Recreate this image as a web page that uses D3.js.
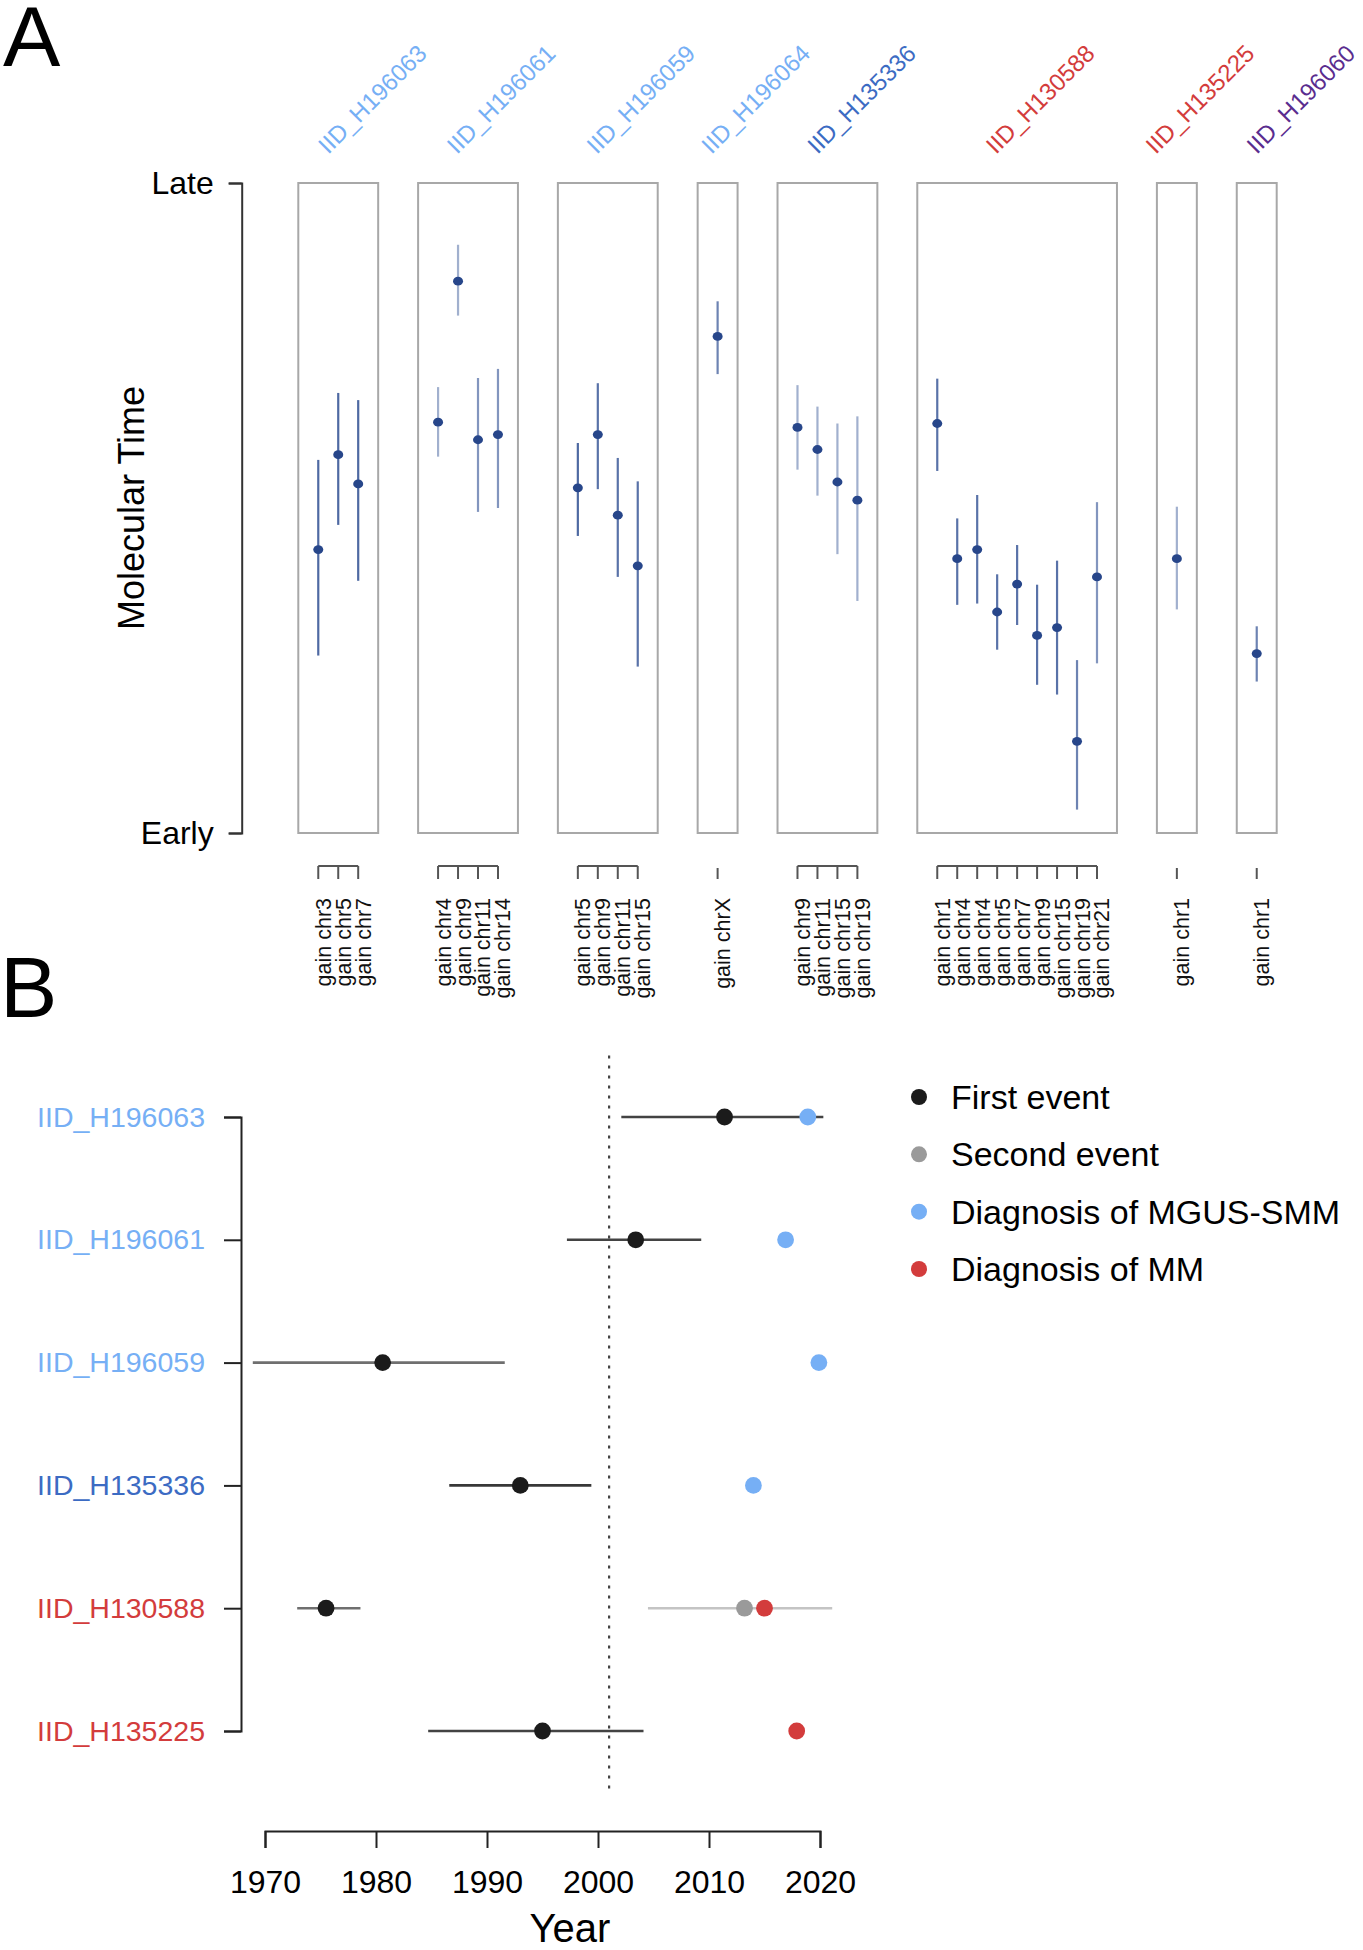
<!DOCTYPE html>
<html>
<head>
<meta charset="utf-8">
<script src="https://cdn.jsdelivr.net/npm/d3@7"></script>
<style>
  html, body { margin: 0; padding: 0; background: #fff; }
  svg { display: block; font-family: "Liberation Sans", Arial, Helvetica, sans-serif; }
</style>
</head>
<body>
<svg id="chart" width="1363" height="1950"></svg>
<script>
// ---------------- Panel A data ----------------
const samplesA = ["IID_H196063","IID_H196061","IID_H196059","IID_H196064","IID_H135336","IID_H130588","IID_H135225","IID_H196060"];
const sampleColorKey = ["mgus","mgus","mgus","mgus","darkblue","mm","mm","purple"];
// events per sample (label, molecular time point estimate, lower, upper, opacity of CI)
const evSample = [0,0,0, 1,1,1,1, 2,2,2,2, 3, 4,4,4,4, 5,5,5,5,5,5,5,5,5, 6, 7];
const evLabel = ["gain chr3","gain chr5","gain chr7",
  "gain chr4","gain chr9","gain chr11","gain chr14",
  "gain chr5","gain chr9","gain chr11","gain chr15",
  "gain chrX",
  "gain chr9","gain chr11","gain chr15","gain chr19",
  "gain chr1","gain chr4","gain chr4","gain chr5","gain chr7","gain chr9","gain chr15","gain chr19","gain chr21",
  "gain chr1","gain chr1"];
const evTime = [0.436,0.582,0.537, 0.632,0.849,0.605,0.613, 0.531,0.613,0.489,0.411, 0.764,
  0.624,0.590,0.540,0.512, 0.630,0.422,0.436,0.340,0.383,0.304,0.316,0.141,0.394, 0.422, 0.276];
const evLow = [0.273,0.474,0.388, 0.579,0.796,0.494,0.500, 0.457,0.529,0.394,0.256, 0.706,
  0.559,0.519,0.429,0.357, 0.557,0.351,0.353,0.282,0.320,0.228,0.213,0.036,0.261, 0.344, 0.233];
const evHigh = [0.574,0.677,0.666, 0.686,0.905,0.700,0.714, 0.600,0.692,0.577,0.541, 0.818,
  0.689,0.656,0.630,0.641, 0.699,0.484,0.520,0.398,0.443,0.382,0.419,0.266,0.509, 0.502, 0.318];
const evAlpha = [0.85,0.85,0.85, 0.45,0.45,0.6,0.6, 0.85,0.8,0.8,0.8, 0.7,
  0.45,0.45,0.45,0.45, 0.8,0.8,0.8,0.8,0.8,0.8,0.8,0.7,0.6, 0.45, 0.7];
const yTicksA = [0, 1];
const yTickLabelsA = ["Early", "Late"];

// ---------------- Panel B data ----------------
const rowsB = ["IID_H196063","IID_H196061","IID_H196059","IID_H135336","IID_H130588","IID_H135225"];
const rowColorKey = ["mgus","mgus","mgus","darkblue","mm","mm"];
const firstEvent = [2011.4, 2003.4, 1980.6, 1993.0, 1975.5, 1995.0];
const firstLow   = [2002.1, 1997.2, 1968.9, 1986.6, 1972.9, 1984.7];
const firstHigh  = [2020.3, 2009.3, 1991.6, 1999.4, 1978.6, 2004.1];
const firstAlpha = [0.85, 0.85, 0.65, 0.9, 0.65, 0.85];
const secondEvent = [null, null, null, null, 2013.2, null];
const secondLow   = [null, null, null, null, 2004.5, null];
const secondHigh  = [null, null, null, null, 2021.1, null];
const diagMGUS = [2018.9, 2016.9, 2019.9, 2014.0, null, null];
const diagMM   = [null, null, null, null, 2015.0, 2017.9];
const refYear = 2001;
const yearTicks = [1970, 1980, 1990, 2000, 2010, 2020];
const legendLabels = ["First event", "Second event", "Diagnosis of MGUS-SMM", "Diagnosis of MM"];
const legendKeys = ["first", "second", "mgus", "mm"];

// ---------------- styles ----------------
const colors = {
  mgus: "#76aff5", darkblue: "#3c6bc3", mm: "#d33c3c", purple: "#5a2d8f",
  first: "#1b1b1b", second: "#9a9a9a", point: "#27468a", ci: "#2f4f92"
};
const layoutA = { gapUnits: 2, labelShift: [-10,-11,-11,-6,-10,-21,-21,0] };

const svg = d3.select("#chart");

// ================= PANEL A =================
const boxes = [];
let u = 0;
samplesA.forEach((s, i) => {
  const idx = evSample.map((v, k) => v === i ? k : -1).filter(k => k >= 0);
  const n = idx.length;
  boxes.push({ sample: s, i, start: u, end: u + n + 1, items: idx.map((k, j) => ({ k, u: u + j + 1 })) });
  u = u + n + 1 + layoutA.gapUnits;
});
const uMax = boxes[boxes.length - 1].end;

const xA = d3.scaleLinear().domain([0, uMax]).range([298.3, 1276.7]);
const yA = d3.scaleLinear().domain([0, 1]).range([833, 183]);

svg.append("text").attr("x", 3).attr("y", 66).attr("font-size", 86).text("A");

// y axis
const axA = svg.append("g").attr("transform", "translate(241.7,0)")
  .call(d3.axisLeft(yA).tickValues(yTicksA).tickFormat((d, i) => yTickLabelsA[i]).tickSize(13).tickPadding(15));
axA.selectAll("path,line").attr("stroke", "#333").attr("stroke-width", 2);
axA.selectAll("text").attr("font-size", 32).attr("fill", "#000").attr("font-family", "Liberation Sans, Arial, sans-serif");

svg.append("text")
  .attr("transform", "translate(131,508) rotate(-90)")
  .attr("text-anchor", "middle").attr("dominant-baseline", "central")
  .attr("font-size", 36).text("Molecular Time");

// boxes
const gA = svg.append("g");
boxes.forEach(b => {
  gA.append("rect")
    .attr("x", xA(b.start)).attr("y", yA(1))
    .attr("width", xA(b.end) - xA(b.start)).attr("height", yA(0) - yA(1))
    .attr("fill", "none").attr("stroke", "#a8a8a8").attr("stroke-width", 2);

  // sample label, rotated 45 deg
  const cx = (xA(b.start) + xA(b.end)) / 2 + layoutA.labelShift[b.i];
  gA.append("text")
    .attr("transform", `translate(${cx},155) rotate(-45)`)
    .attr("font-size", 24)
    .attr("fill", colors[sampleColorKey[b.i]])
    .text(b.sample);

  // CIs and points
  b.items.forEach(it => {
    gA.append("line")
      .attr("x1", xA(it.u)).attr("x2", xA(it.u))
      .attr("y1", yA(evLow[it.k])).attr("y2", yA(evHigh[it.k]))
      .attr("stroke", colors.ci).attr("stroke-opacity", evAlpha[it.k]).attr("stroke-width", 2.2);
    gA.append("ellipse")
      .attr("cx", xA(it.u)).attr("cy", yA(evTime[it.k]))
      .attr("rx", 5).attr("ry", 4.4)
      .attr("fill", colors.point);
  });

  // bottom bracket axis
  const first = b.items[0].u, last = b.items[b.items.length - 1].u;
  if (b.items.length > 1) {
    gA.append("line").attr("x1", xA(first)).attr("x2", xA(last))
      .attr("y1", 866).attr("y2", 866).attr("stroke", "#555").attr("stroke-width", 2);
  }
  b.items.forEach(it => {
    gA.append("line").attr("x1", xA(it.u)).attr("x2", xA(it.u))
      .attr("y1", b.items.length > 1 ? 866 : 868).attr("y2", 879)
      .attr("stroke", "#555").attr("stroke-width", 2);
    gA.append("text")
      .attr("transform", `translate(${xA(it.u)},898) rotate(-90)`)
      .attr("text-anchor", "end").attr("dy", "0.58em")
      .attr("font-size", 21.5).attr("fill", "#111")
      .text(evLabel[it.k]);
  });
});

// ================= PANEL B =================
svg.append("text").attr("x", 0).attr("y", 1017).attr("font-size", 86).text("B");

const xB = d3.scaleLinear().domain([yearTicks[0], yearTicks[yearTicks.length - 1]]).range([265, 820]);
const yB = d3.scalePoint().domain(rowsB).range([1117, 1731]);
const half = yB.step() / 2;

// reference dotted line
svg.append("line")
  .attr("x1", xB(refYear)).attr("x2", xB(refYear))
  .attr("y1", yB(rowsB[0]) - half).attr("y2", yB(rowsB[rowsB.length - 1]) + half)
  .attr("stroke", "#444").attr("stroke-width", 2.2).attr("stroke-dasharray", "3,7");

// y axis
const ayB = svg.append("g").attr("transform", "translate(241,0)")
  .call(d3.axisLeft(yB).tickSize(17).tickPadding(19));
ayB.selectAll("path,line").attr("stroke", "#222").attr("stroke-width", 2);
ayB.selectAll("text").attr("font-size", 28.5).attr("font-family", "Liberation Sans, Arial, sans-serif")
  .attr("fill", (d, i) => colors[rowColorKey[i]]);

// x axis
const axB = svg.append("g").attr("transform", "translate(0,1831)")
  .call(d3.axisBottom(xB).tickValues(yearTicks).tickFormat(d3.format("d")).tickSize(17).tickPadding(22));
axB.selectAll("path,line").attr("stroke", "#222").attr("stroke-width", 2);
axB.selectAll("text").attr("font-size", 32).attr("fill", "#000").attr("font-family", "Liberation Sans, Arial, sans-serif");

svg.append("text").attr("x", 570).attr("y", 1942).attr("text-anchor", "middle")
  .attr("font-size", 40).text("Year");

const gB = svg.append("g");
rowsB.forEach((r, i) => {
  const y = yB(r);
  gB.append("line").attr("x1", xB(firstLow[i])).attr("x2", xB(firstHigh[i]))
    .attr("y1", y).attr("y2", y).attr("stroke", "#222")
    .attr("stroke-opacity", firstAlpha[i]).attr("stroke-width", 2.6);
  if (secondEvent[i] != null) {
    gB.append("line").attr("x1", xB(secondLow[i])).attr("x2", xB(secondHigh[i]))
      .attr("y1", y).attr("y2", y).attr("stroke", "#c4c4c4").attr("stroke-width", 2.6);
  }
  const r0 = 8.4;
  gB.append("circle").attr("cx", xB(firstEvent[i])).attr("cy", y).attr("r", r0).attr("fill", colors.first);
  if (secondEvent[i] != null)
    gB.append("circle").attr("cx", xB(secondEvent[i])).attr("cy", y).attr("r", r0).attr("fill", colors.second);
  if (diagMGUS[i] != null)
    gB.append("circle").attr("cx", xB(diagMGUS[i])).attr("cy", y).attr("r", r0).attr("fill", colors.mgus);
  if (diagMM[i] != null)
    gB.append("circle").attr("cx", xB(diagMM[i])).attr("cy", y).attr("r", r0).attr("fill", colors.mm);
});

// legend
const legY = d3.scalePoint().domain(legendKeys).range([1097, 1269]);
legendKeys.forEach((k, i) => {
  svg.append("circle").attr("cx", 919).attr("cy", legY(k)).attr("r", 8).attr("fill", colors[k]);
  svg.append("text").attr("x", 951).attr("y", legY(k)).attr("dy", "0.35em")
    .attr("font-size", 34).attr("fill", "#000").text(legendLabels[i]);
});
</script>
</body>
</html>
